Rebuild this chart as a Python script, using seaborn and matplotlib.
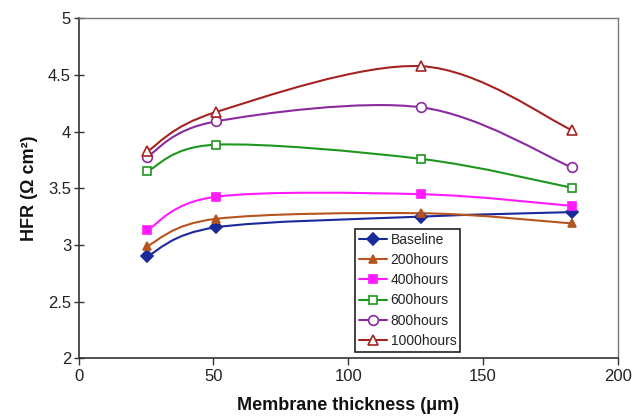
import matplotlib
matplotlib.use("Agg")
import matplotlib.pyplot as plt
from matplotlib.path import Path
from matplotlib.patches import PathPatch
from matplotlib.lines import Line2D
import seaborn as sns
import pandas as pd
import numpy as np

thickness = [25.4, 50.8, 127, 183]
baseline = [2.90, 3.155, 3.25, 3.29]
h200 = [2.99, 3.23, 3.28, 3.19]
h400 = [3.13, 3.425, 3.448, 3.345]
h600 = [3.65, 3.885, 3.76, 3.505]
h800 = [3.78, 4.09, 4.215, 3.685]
h1000 = [3.825, 4.172, 4.578, 4.015]

series_names = ["Baseline", "200hours", "400hours", "600hours", "800hours", "1000hours"]
series_values = [baseline, h200, h400, h600, h800, h1000]

colors = ["#1a2a9a", "#b5541e", "#ff1aff", "#1e961e", "#8a2a9e", "#a52222"]
markers = ["D", "^", "s", "s", "o", "^"]
filled = [True, True, True, False, False, False]
msizes = [6, 6, 6, 6, 7, 7.5]

rows = []
for name, vals in zip(series_names, series_values):
    for x, y in zip(thickness, vals):
        rows.append({"thickness": x, "HFR": y, "series": name})
df = pd.DataFrame(rows)

sns.set_theme(style="white")
plt.rcParams['font.family'] = ['Liberation Sans', 'DejaVu Sans']

fig = plt.figure(figsize=(6.4, 4.18), dpi=100)
ax = fig.add_axes([0.123, 0.143, 0.842, 0.813])


def smooth_path(xs, ys):
    # Excel-style smoothed line: cubic Bezier segments between data points
    pts = np.column_stack([xs, ys])
    n = len(pts)
    verts = [pts[0]]
    codes = [Path.MOVETO]
    for i in range(n - 1):
        p0 = pts[i - 1] if i > 0 else pts[i]
        p1 = pts[i]
        p2 = pts[i + 1]
        p3 = pts[i + 2] if i + 2 < n else pts[i + 1]
        c1 = p1 + (p2 - p0) / 6.0
        c2 = p2 - (p3 - p1) / 6.0
        verts += [c1, c2, p2]
        codes += [Path.CURVE4] * 3
    return Path(verts, codes)


handles = []
for name, col, mk, fl, ms in zip(series_names, colors, markers, filled, msizes):
    sub = df[df["series"] == name]
    path = smooth_path(sub["thickness"].to_numpy(float), sub["HFR"].to_numpy(float))
    ax.add_patch(PathPatch(path, facecolor="none", edgecolor=col, lw=1.5, zorder=2))
    sns.lineplot(data=sub, x="thickness", y="HFR", ax=ax, color=col, lw=0,
                 marker=mk, markersize=ms,
                 markerfacecolor=col if fl else "white",
                 markeredgecolor=col, markeredgewidth=1.2, zorder=3,
                 legend=False)
    handles.append(Line2D([], [], color=col, lw=1.5, marker=mk, markersize=ms,
                          markerfacecolor=col if fl else "white",
                          markeredgecolor=col, markeredgewidth=1.2, label=name))

ax.set_xlim(0, 200)
ax.set_ylim(2, 5)
ax.set_xticks([0, 50, 100, 150, 200])
ax.set_yticks([2, 2.5, 3, 3.5, 4, 4.5, 5])
ax.set_yticklabels(["2", "2.5", "3", "3.5", "4", "4.5", "5"])
ax.tick_params(axis="x", direction="out", length=5, width=1, labelsize=12, color="#333333",
               labelcolor="#222222", pad=3)
ax.tick_params(axis="y", direction="inout", length=7, width=1, labelsize=12, color="#333333",
               labelcolor="#222222", pad=2)
ax.tick_params(left=True, bottom=True)
for s in ["left", "bottom"]:
    ax.spines[s].set_color("#333333")
    ax.spines[s].set_linewidth(1.2)
for s in ["top", "right"]:
    ax.spines[s].set_color("#777777")
    ax.spines[s].set_linewidth(1.0)

ax.set_xlabel("Membrane thickness (\u03bcm)", fontsize=13, fontweight="bold", labelpad=9,
              color="#111111")
ax.set_ylabel("HFR (\u03a9 cm\u00b2)", fontsize=13, fontweight="bold", labelpad=7,
              color="#111111")

leg = ax.legend(handles=handles, loc="lower left", bbox_to_anchor=(0.513, 0.018),
                fontsize=10, frameon=True, fancybox=False, framealpha=1,
                edgecolor="#222222", borderpad=0.3, labelspacing=0.45,
                handlelength=2.0, handletextpad=0.25, borderaxespad=0)
leg.get_frame().set_linewidth(1.2)
for t in leg.get_texts():
    t.set_color("#222222")

fig.savefig("out.png", dpi=100)
